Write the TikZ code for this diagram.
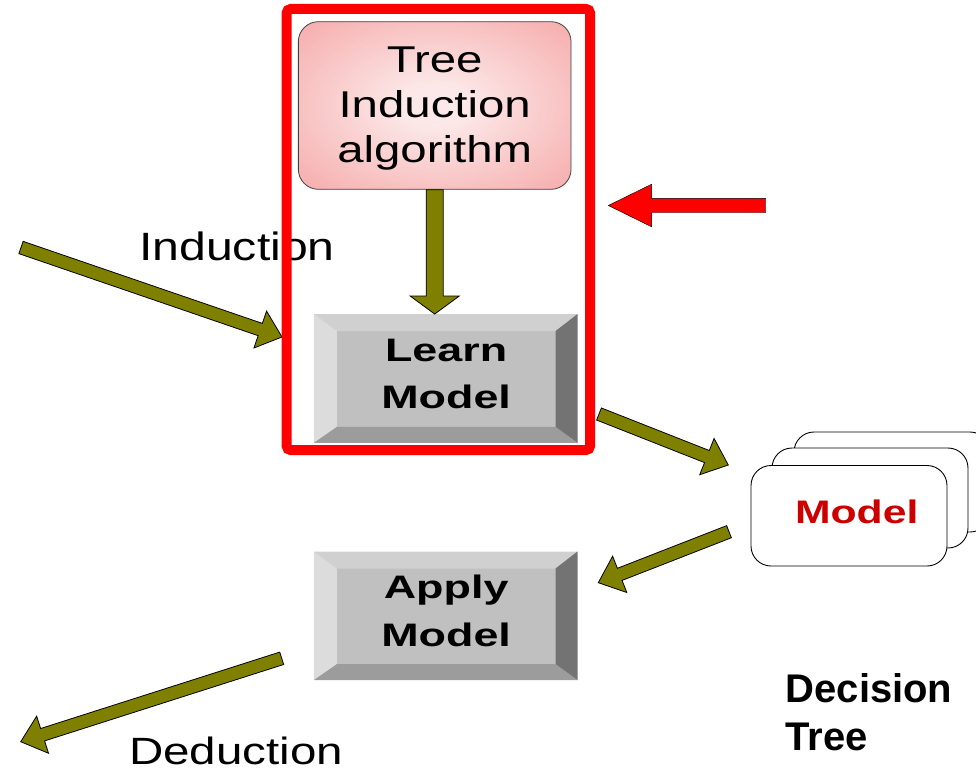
\documentclass[tikz,border=0pt]{standalone}
\usepackage{fontspec}
\setmainfont{Liberation Sans}
\newfontfamily\algofont[FakeStretch=1.27]{Liberation Sans}
\newfontfamily\indfont[FakeStretch=1.22]{Liberation Sans}
\newfontfamily\dedfont[FakeStretch=1.25]{Liberation Sans}
\newfontfamily\keyfont[FakeStretch=1.38]{Liberation Sans}
\newfontfamily\cardfont[FakeStretch=1.31]{Liberation Sans}
\usetikzlibrary{calc}

\definecolor{olivefill}{HTML}{808000}
\definecolor{pinkcore}{RGB}{252,232,232}
\definecolor{pinkedge}{RGB}{245,158,158}
\definecolor{keyface}{HTML}{C0C0C0}
\definecolor{keytop}{HTML}{D0D0D0}
\definecolor{keyleft}{HTML}{DCDCDC}
\definecolor{keyright}{HTML}{737373}
\definecolor{keybottom}{HTML}{9C9C9C}
\definecolor{modelred}{HTML}{CC0000}

\pgfdeclareradialshading{pinkglow}{\pgfpoint{0bp}{0bp}}%
  {color(0bp)=(pinkcore); color(6bp)=(pinkcore); color(42bp)=(pinkedge); color(50bp)=(pinkedge)}

% block arrow: #1 style, #2 tail, #3 tip, #4 half shaft width,
% #5 half head width, #6 head length
\newcommand\blockarrow[6]{%
  \coordinate (ba-base) at ($(#3)!#6!(#2)$);
  \draw[#1] ($(#2)!#4!90:(#3)$) -- ($(ba-base)!#4!90:(#3)$)
    -- ($(ba-base)!#5!90:(#3)$) -- (#3)
    -- ($(ba-base)!#5!-90:(#3)$) -- ($(ba-base)!#4!-90:(#3)$)
    -- ($(#2)!#4!-90:(#3)$) -- cycle;}

% bevelled key faces around a keybox node
\newcommand\bevels[1]{%
  \fill[keytop] (#1.north west) -- (#1.north east)
    -- ($(#1.north east)+(-22,17)$) -- ($(#1.north west)+(23,17)$) -- cycle;
  \fill[keyleft] (#1.north west) -- ($(#1.north west)+(23,17)$)
    -- ($(#1.south west)+(23,-16)$) -- (#1.south west) -- cycle;
  \fill[keyright] (#1.north east) -- (#1.south east)
    -- ($(#1.south east)+(-22,-16)$) -- ($(#1.north east)+(-22,17)$) -- cycle;
  \fill[keybottom] (#1.south west) -- (#1.south east)
    -- ($(#1.south east)+(-22,-16)$) -- ($(#1.south west)+(23,-16)$) -- cycle;}

\begin{document}
\begin{tikzpicture}[x=1pt,y=-1pt,
  algobox/.style={draw=black!75, line width=0.8pt, rounded corners=20pt,
    shade, shading=pinkglow, minimum width=272.7pt, minimum height=167.6pt,
    inner sep=0pt},
  algotext/.style={inner sep=0pt, align=center,
    font=\algofont\fontsize{37.3}{45}\selectfont},
  keybox/.style={fill=keyface, minimum width=263.3pt, minimum height=128.5pt,
    inner sep=0pt},
  keytext/.style={inner sep=0pt, align=center,
    font=\keyfont\bfseries\fontsize{32.5}{47.6}\selectfont},
  card/.style={draw=black, line width=0.9pt, fill=white, rounded corners=20pt,
    minimum width=196pt, minimum height=100pt, inner sep=0pt},
  flow/.style={draw=black, line width=0.8pt, fill=olivefill, line join=miter},
  pointer/.style={fill=red},
  caption/.style={inner sep=0pt}]

\useasboundingbox (0,0) rectangle (976,773);

% algorithm box
\node[algobox] (algo) at (434.7,105.5) {};
\node[algotext, anchor=north] (algo-label) at ($(algo.north)+(0,25.5)$)
  {Tree\\Induction\\algorithm};

% learn and apply keys
\node[keybox] (learn) at (445.65,378.5) {};
\bevels{learn}
\node[keytext, anchor=north] (learn-label) at ($(learn.north)+(0.5,24.4)$) {Learn\\Model};

\node[keybox, minimum height=128.3pt] (apply) at (445.65,615.85) {};
\bevels{apply}
\node[keytext, anchor=north] (apply-label) at ($(apply.north)+(0.5,23.4)$) {Apply\\Model};

% stacked model cards
\node[card] (card3) at (892,482) {};
\node[card] (card2) at (870,498) {};
\node[card, minimum height=100.5pt] (card1) at (849,515.75) {};
\node[caption, anchor=base, text=modelred,
  font=\cardfont\bfseries\fontsize{32.6}{39}\selectfont]
  (model-label) at ($(card1.center)+(7.7,7.55)$) {Model};

% captions
\node[caption, anchor=base west, font=\indfont\fontsize{39.5}{47}\selectfont]
  (induction) at (139,260) {Induction};
\node[caption, anchor=base west, font=\dedfont\fontsize{38}{45}\selectfont]
  (deduction) at (129,764) {Deduction};
\node[caption, anchor=north west, align=left,
  font=\bfseries\fontsize{40}{48.3}\selectfont]
  (dtree) at (785.5,673) {Decision\\Tree};

% arrow end points
\coordinate (ind-tail) at (21,247.5);
\coordinate (ind-tip) at (282,337);
\coordinate (v-tail) at (algo.south);
\coordinate (v-tip) at (algo.south |- learn.north);
\coordinate (lm-tail) at (599,414);
\coordinate (lm-tip) at (728.3,465);
\coordinate (ma-tail) at (729,531.7);
\coordinate (ma-tip) at (598.3,582.7);
\coordinate (ded-tail) at (281.7,658.3);
\coordinate (ded-tip) at (20.7,741.7);
\coordinate (red-tail) at (765.7,205.5);
\coordinate (red-tip) at (608.3,205.5);

% flow arrows
\blockarrow{flow}{ind-tail}{ind-tip}{6.5pt}{19.5pt}{23pt}
\blockarrow{flow}{v-tail}{v-tip}{8.5pt}{24.5pt}{18pt}
\blockarrow{flow}{lm-tail}{lm-tip}{6.5pt}{19.5pt}{23pt}
\blockarrow{flow}{ma-tail}{ma-tip}{6.5pt}{19.5pt}{23pt}
\blockarrow{flow}{ded-tail}{ded-tip}{6.5pt}{19.5pt}{23pt}
\blockarrow{pointer}{red-tail}{red-tip}{7.2pt}{21.3pt}{43.3pt}

% highlight frame
\node[draw=red, line width=10pt, rounded corners=4pt, minimum width=303.3pt,
  minimum height=441pt, inner sep=0pt] (frame) at (438.35,229.5) {};

\end{tikzpicture}
\end{document}
